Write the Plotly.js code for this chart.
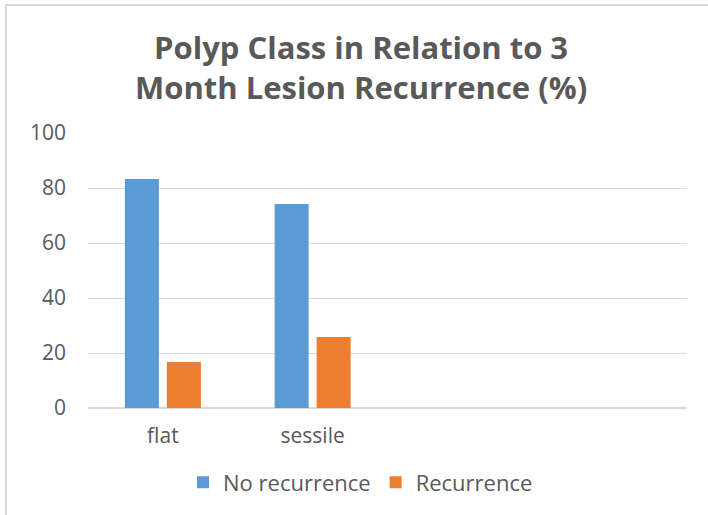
<!DOCTYPE html>
<html>
<head>
<meta charset="utf-8">
<script src="https://cdn.plot.ly/plotly-3.0.1.min.js"></script>
<style>
  html, body { margin: 0; padding: 0; background: #ffffff; }
  #wrap { position: relative; width: 708px; height: 515px; }
  #chart { width: 708px; height: 515px; }
  #frame { position: absolute; left: 5px; top: 4px; right: -2px; bottom: -2px;
           border-left: 2px solid #d9d9d9; border-top: 2px solid #d9d9d9; pointer-events: none; }
</style>
</head>
<body>
<div id="wrap">
  <div id="chart"></div>
  <div id="frame"></div>
</div>
<script>
const categories = ['flat', 'sessile'];
const seriesNames = ['No recurrence', 'Recurrence'];
const noRecurrence = [83.3, 74.2];
const recurrence = [16.7, 25.8];
const yTicks = [0, 20, 40, 60, 80, 100];

const textColor = '#595959';
const fontFam = '"Open Sans", sans-serif';

const traces = [
  { type: 'bar', name: seriesNames[0], x: categories, y: noRecurrence,
    marker: { color: '#5B9BD5' }, hoverinfo: 'x+y+name' },
  { type: 'bar', name: seriesNames[1], x: categories, y: recurrence,
    marker: { color: '#ED7D31' }, hoverinfo: 'x+y+name' }
];

const layout = {
  width: 708, height: 515,
  margin: { l: 88, r: 21, t: 133, b: 105 },
  paper_bgcolor: 'rgba(0,0,0,0)',
  plot_bgcolor: '#ffffff',
  font: { family: fontFam, color: textColor, size: 20 },
  title: {
    text: 'Polyp Class in Relation to 3<br>Month Lesion Recurrence (%)',
    font: { family: fontFam, size: 31, color: textColor, weight: 'bold' },
    xref: 'container', x: 0.51, xanchor: 'center',
    yref: 'container', y: 0.886, yanchor: 'middle'
  },
  barmode: 'group',
  bargap: 0.439,
  bargroupgap: 0.19,
  showlegend: true,
  legend: {
    orientation: 'h', x: 0.455, xanchor: 'center', y: -0.271, yanchor: 'middle',
    font: { family: fontFam, size: 22, color: textColor },
    traceorder: 'normal'
  },
  xaxis: {
    type: 'category', range: [-0.5, 3.5],
    showgrid: false, zeroline: false, showline: false,
    ticks: '', tickfont: { family: fontFam, size: 21, color: textColor },
    ticklabelstandoff: 13, fixedrange: true
  },
  yaxis: {
    range: [0, 100], tickvals: yTicks, ticktext: yTicks.map(String),
    showgrid: true, gridcolor: '#d9d9d9', gridwidth: 1,
    zeroline: true, zerolinecolor: '#d9d9d9', zerolinewidth: 1.5,
    showline: false, ticks: '',
    tickfont: { family: fontFam, size: 21, color: textColor },
    ticklabelstandoff: 21, fixedrange: true
  }
};

Plotly.newPlot('chart', traces, layout, { displayModeBar: false, staticPlot: true });
</script>
</body>
</html>
